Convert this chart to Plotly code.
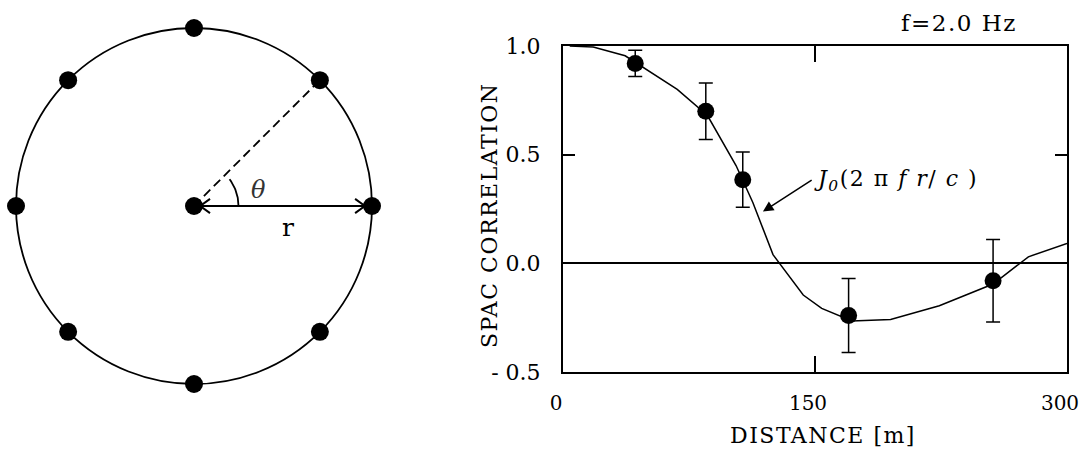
import numpy as np
import plotly.graph_objects as go

# ---- SPAC measurements at f = 2.0 Hz ----
distance_m = [43, 85, 107, 170, 256]
spac_coef = [0.92, 0.70, 0.385, -0.24, -0.08]
spac_err = [0.06, 0.13, 0.127, 0.17, 0.19]

# ---- theoretical curve J0(2*pi*f*r/c), sampled ----
bessel_r = [4, 18, 37, 68, 86, 103, 113, 125, 143, 154, 172, 195, 224, 256, 277, 300]
bessel_j0 = [1.0, 0.995, 0.955, 0.80, 0.68, 0.45, 0.28, 0.04, -0.146, -0.207,
             -0.265, -0.258, -0.195, -0.095, 0.03, 0.092]

# ---- axis ticks ----
x_tick_vals = [0, 150, 300]
x_tick_text = ["0", "150", "300"]
y_tick_vals = [-0.5, 0.0, 0.5, 1.0]
y_tick_text = ["- 0.5", "0.0", "0.5", "1.0"]

# ---- circular array geometry (unit radius) ----
ring_radius = 1.0
sensor_angles_deg = [0, 45, 90, 135, 180, 225, 270, 315]
pair_angle_deg = 45        # sensor joined to the centre by the dashed line
theta_arc_deg = 37         # extent of the angle mark
theta_arc_radius = 0.25

W, H = 1081, 450
SERIF = "DejaVu Serif"
PX = 178.0                 # pixels per unit radius on the array panel
CX, CY = 194.0, 206.0      # array centre in page pixels

def spaced(txt, px):
    return f'<span style="letter-spacing:{px}px">{txt}</span>'

fig = go.Figure()

# ---------------- left: array layout ----------------
ang = np.radians(sensor_angles_deg)
sx = ring_radius * np.cos(ang)
sy = ring_radius * np.sin(ang)

fig.add_shape(type="circle", xref="x2", yref="y2",
              x0=-ring_radius, y0=-ring_radius, x1=ring_radius, y1=ring_radius,
              line=dict(color="black", width=1.8))

# dashed radius to the 45-degree sensor
pa = np.radians(pair_angle_deg)
fig.add_trace(go.Scatter(x=[0, ring_radius * np.cos(pa)], y=[0, ring_radius * np.sin(pa)],
                         mode="lines", line=dict(color="black", width=1.8, dash="9px,5px"),
                         xaxis="x2", yaxis="y2", showlegend=False, hoverinfo="skip"))

# double-headed arrow for r
gap0, gap1 = 0.035, 0.04
arm_dx, arm_dy = 0.055, 0.04
xa, xb = gap0, ring_radius - gap1
ax_pts = [xa, xb, None,
          xa + arm_dx, xa, xa + arm_dx, None,
          xb - arm_dx, xb, xb - arm_dx]
ay_pts = [0, 0, None,
          arm_dy, 0, -arm_dy, None,
          arm_dy, 0, -arm_dy]
fig.add_trace(go.Scatter(x=ax_pts, y=ay_pts, mode="lines",
                         line=dict(color="black", width=2),
                         xaxis="x2", yaxis="y2", showlegend=False, hoverinfo="skip"))

# angle mark
t = np.radians(np.linspace(0, theta_arc_deg, 30))
fig.add_trace(go.Scatter(x=theta_arc_radius * np.cos(t), y=theta_arc_radius * np.sin(t),
                         mode="lines", line=dict(color="black", width=1.8),
                         xaxis="x2", yaxis="y2", showlegend=False, hoverinfo="skip"))

# sensors (ring + centre)
fig.add_trace(go.Scatter(x=list(sx) + [0], y=list(sy) + [0], mode="markers",
                         marker=dict(color="black", size=18),
                         xaxis="x2", yaxis="y2", showlegend=False, hoverinfo="skip"))

fig.add_annotation(x=0.36, y=0.09, xref="x2", yref="y2", text="<i>θ</i>",
                   showarrow=False, font=dict(family=SERIF, size=24, color="#333"))
fig.add_annotation(x=0.53, y=-0.12, xref="x2", yref="y2", text="r",
                   showarrow=False, font=dict(family=SERIF, size=25, color="black"))

# ---------------- right: SPAC correlation ----------------
fig.add_trace(go.Scatter(x=bessel_r, y=bessel_j0, mode="lines",
                         line=dict(color="black", width=1.5),
                         showlegend=False, hoverinfo="skip", cliponaxis=True))
fig.add_trace(go.Scatter(x=distance_m, y=spac_coef, mode="markers",
                         marker=dict(color="black", size=17),
                         error_y=dict(type="data", array=spac_err, color="black",
                                      thickness=1.5, width=7),
                         showlegend=False))

# label of the theoretical curve, with its arrow pointing at the line
fig.add_annotation(x=119, y=0.238, xref="x", yref="y", ax=148, ay=0.383,
                   axref="x", ayref="y", xanchor="left", yanchor="middle",
                   text=spaced("<i>J</i><sub><i>0</i></sub>(2 π <i>f r</i>/ <i>c</i> )", 1.5),
                   showarrow=True, arrowhead=2, arrowsize=1.4, arrowwidth=1.5,
                   arrowcolor="black", font=dict(family=SERIF, size=22, color="black"))

fig.add_annotation(x=1019 / W, y=1 - 23 / H, xref="paper", yref="paper",
                   xanchor="right", yanchor="middle", text=spaced("f=2.0 Hz", 1.5),
                   showarrow=False, font=dict(family=SERIF, size=23, color="black"))
fig.add_annotation(x=823 / W, y=1 - 435 / H, xref="paper", yref="paper",
                   xanchor="center", yanchor="middle", text=spaced("DISTANCE [m]", 1.5),
                   showarrow=False, font=dict(family=SERIF, size=22, color="black"))
fig.add_annotation(x=489 / W, y=1 - 215 / H, xref="paper", yref="paper",
                   xanchor="center", yanchor="middle", textangle=-90,
                   text=spaced("SPAC CORRELATION", 1.5),
                   showarrow=False, font=dict(family=SERIF, size=22, color="black"))

axis_common = dict(showline=True, linecolor="black", linewidth=2, mirror="ticks",
                   ticks="inside", tickcolor="black", tickwidth=1.5,
                   showgrid=False, automargin=False)

fig.update_layout(
    width=W, height=H, margin=dict(l=0, r=0, t=0, b=0),
    paper_bgcolor="white", plot_bgcolor="white",
    xaxis=dict(domain=[563 / W, 1067 / W], range=[0, 300],
               tickvals=x_tick_vals, ticktext=x_tick_text, ticklen=16,
               zeroline=False, ticklabelstandoff=12, ticklabeloverflow="allow",
               ticklabelshift=-7,
               tickfont=dict(family=SERIF, size=20, color="black"), **axis_common),
    yaxis=dict(domain=[1 - 372 / H, 1 - 46 / H], range=[-0.5, 1.0],
               tickvals=y_tick_vals, ticktext=y_tick_text, ticklen=12,
               zeroline=True, zerolinecolor="black", zerolinewidth=2,
               ticklabelstandoff=16,
               tickfont=dict(family=SERIF, size=22, color="black"), **axis_common),
    xaxis2=dict(domain=[0, 400 / W], range=[-CX / PX, (400 - CX) / PX],
                visible=False, fixedrange=True, anchor="y2"),
    yaxis2=dict(domain=[0, 1], range=[-(H - CY) / PX, CY / PX],
                visible=False, fixedrange=True, anchor="x2"),
    showlegend=False,
)

fig.write_html("out.html")
